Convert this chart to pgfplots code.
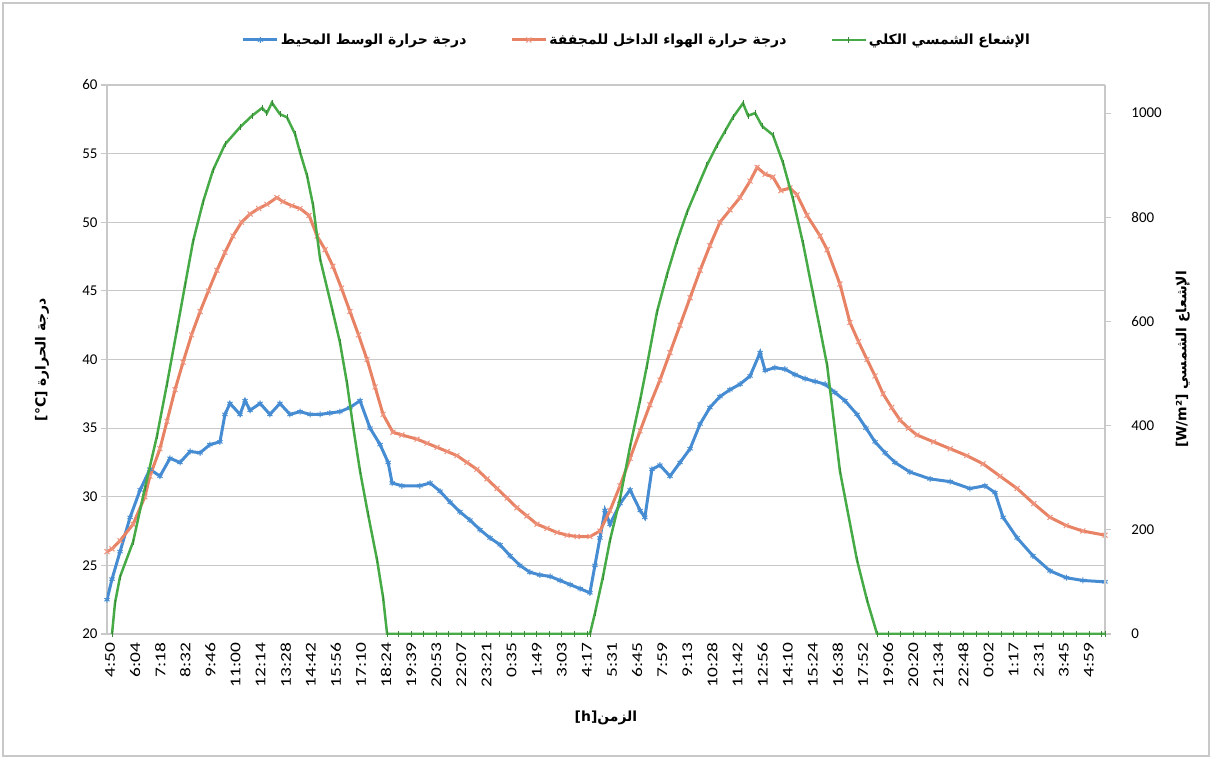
\documentclass[border=0pt]{standalone}
\usepackage{fontspec}
\setmainfont{Carlito}
\newfontfamily\arabicfont[Script=Arabic]{DejaVu Sans}
\usepackage{pgfplots}
\pgfplotsset{compat=1.18}
\TeXXeTstate=1
\definecolor{cblue}{RGB}{70,140,210}
\definecolor{corange}{RGB}{232,130,100}
\definecolor{cgreen}{RGB}{70,170,70}
\definecolor{cgrid}{RGB}{200,200,200}
\begin{document}
\begin{tikzpicture}
\useasboundingbox (-107bp,-126bp) rectangle (1105bp,634bp);
\draw[cgrid, line width=1.2bp] (-104bp,-122bp) rectangle (1102bp,631bp);
\begin{axis}[
  at={(0,0)}, anchor=south west,
  scale only axis, width=998bp, height=549bp,
  xmin=-0.12, xmax=39.64, ymin=20, ymax=60,
  axis x line*=bottom, axis y line*=left,
  axis line style={cgrid, line width=1.2bp},
  ytick={20,25,...,60},
  xtick={0,...,39},
  xticklabels={4:50,6:04,7:18,8:32,9:46,11:00,12:14,13:28,14:42,15:56,17:10,18:24,19:39,20:53,22:07,23:21,0:35,1:49,3:03,4:17,5:31,6:45,7:59,9:13,10:28,11:42,12:56,14:10,15:24,16:38,17:52,19:06,20:20,21:34,22:48,0:02,1:17,2:31,3:45,4:59},
  x tick label style={rotate=90, xscale=1.3, anchor=east, font=\fontsize{15}{17}\selectfont, inner sep=2bp},
  y tick label style={font=\fontsize{15}{18}\selectfont},
  /pgf/number format/assume math mode=true,
  xtick style={draw=none},
  ytick style={cgrid, line width=1.2bp},
  tick align=outside, major tick length=6bp,
  ymajorgrids, grid style={cgrid, line width=1.2bp},
  ylabel={\arabicfont\bfseries\beginR درجة الحرارة \beginL[°C]\endL\endR},
  ylabel style={font=\fontsize{14}{16}\selectfont, at={(axis description cs:-0.065,0.5)}, anchor=center},
  xlabel={\arabicfont\bfseries\beginR الزمن\beginL[h]\endL\endR},
  xlabel style={font=\fontsize{14}{16}\selectfont, at={(axis description cs:0.5,-0.153)}, anchor=center},
]
\addplot[cblue, line width=3bp, mark=asterisk, mark size=3bp, mark options={solid, line width=1bp}] coordinates {
(-0.12,22.5)(0.08,24.0)(0.40,26.0)(0.80,28.5)(1.20,30.5)(1.59,32.0)(1.99,31.5)(2.39,32.8)(2.79,32.5)(3.19,33.3)(3.59,33.2)(3.98,33.8)(4.38,34.0)(4.58,36.0)(4.78,36.8)(5.18,36.0)(5.38,37.0)(5.58,36.3)(5.98,36.8)(6.37,36.0)(6.77,36.8)(7.17,36.0)(7.57,36.2)(7.97,36.0)(8.37,36.0)(8.76,36.1)(9.16,36.2)(9.56,36.5)(9.96,37.0)(10.36,35.0)(10.76,33.8)(11.08,32.5)(11.24,31.0)(11.63,30.8)(12.35,30.8)(12.75,31.0)(13.15,30.4)(13.55,29.6)(13.94,28.9)(14.34,28.3)(14.74,27.6)(15.14,27.0)(15.54,26.5)(15.94,25.7)(16.33,25.0)(16.73,24.5)(17.13,24.3)(17.53,24.2)(17.93,23.9)(18.33,23.6)(18.73,23.3)(19.12,23.0)(19.32,25.0)(19.52,27.0)(19.72,29.0)(19.92,28.0)(20.32,29.5)(20.72,30.5)(21.12,29.0)(21.31,28.5)(21.59,32.0)(21.91,32.3)(22.31,31.5)(22.71,32.5)(23.11,33.5)(23.51,35.3)(23.90,36.5)(24.30,37.3)(24.70,37.8)(25.10,38.2)(25.50,38.8)(25.90,40.5)(26.10,39.2)(26.49,39.4)(26.89,39.3)(27.29,38.9)(27.69,38.6)(28.09,38.4)(28.49,38.2)(28.88,37.6)(29.28,37.0)(29.76,36.0)(30.12,35.0)(30.48,34.0)(30.88,33.2)(31.27,32.5)(31.87,31.8)(32.67,31.3)(33.47,31.1)(34.26,30.6)(34.86,30.8)(35.26,30.3)(35.58,28.5)(36.14,27.0)(36.77,25.7)(37.45,24.6)(38.10,24.1)(38.76,23.9)(39.64,23.8)
};
\addplot[corange, line width=3bp, mark=x, mark size=3.5bp, mark options={solid, line width=1bp, draw=corange!70!pink}] coordinates {
(-0.12,26.0)(0.08,26.2)(0.40,26.8)(0.92,28.0)(1.39,30.0)(1.59,31.5)(1.99,33.5)(2.27,35.5)(2.59,37.8)(2.91,39.8)(3.25,41.8)(3.59,43.5)(3.92,45.0)(4.26,46.5)(4.58,47.8)(4.90,49.0)(5.24,50.0)(5.58,50.6)(5.92,51.0)(6.25,51.3)(6.65,51.8)(6.89,51.5)(7.25,51.2)(7.57,51.0)(7.93,50.5)(8.25,49.0)(8.57,48.0)(8.88,46.8)(9.22,45.2)(9.56,43.5)(9.90,41.8)(10.24,40.0)(10.56,38.0)(10.88,36.0)(11.27,34.7)(11.63,34.5)(12.23,34.2)(12.63,33.9)(13.03,33.6)(13.43,33.3)(13.82,33.0)(14.22,32.5)(14.62,32.0)(15.02,31.3)(15.42,30.6)(15.82,29.9)(16.21,29.2)(16.61,28.6)(17.01,28.0)(17.41,27.7)(17.81,27.4)(18.21,27.2)(18.61,27.1)(19.12,27.1)(19.52,27.5)(19.92,29.0)(20.32,30.8)(20.72,32.8)(21.12,34.8)(21.51,36.7)(21.91,38.5)(22.31,40.5)(22.71,42.5)(23.11,44.5)(23.51,46.5)(23.90,48.3)(24.30,50.0)(24.70,50.9)(25.10,51.8)(25.50,53.0)(25.78,54.0)(26.10,53.5)(26.41,53.3)(26.73,52.3)(27.09,52.5)(27.37,52.0)(27.77,50.5)(28.29,49.0)(28.57,48.0)(29.08,45.5)(29.48,42.7)(29.82,41.3)(30.16,40.0)(30.48,38.8)(30.80,37.5)(31.14,36.5)(31.47,35.6)(31.81,35.0)(32.15,34.5)(32.81,34.0)(33.47,33.5)(34.13,33.0)(34.78,32.4)(35.46,31.5)(36.14,30.6)(36.80,29.5)(37.45,28.5)(38.10,27.9)(38.76,27.5)(39.64,27.2)
};
\end{axis}
\begin{axis}[
  at={(0,0)}, anchor=south west,
  scale only axis, width=998bp, height=549bp,
  xmin=-0.12, xmax=39.64, ymin=0, ymax=1054,
  axis x line=none, axis y line*=right,
  axis line style={cgrid, line width=1.2bp},
  ytick={0,200,...,1000},
  /pgf/number format/1000 sep={},
  /pgf/number format/assume math mode=true,
  y tick label style={font=\fontsize{15}{18}\selectfont, xshift=17bp},
  ytick style={cgrid, line width=1.2bp},
  tick align=outside, major tick length=6bp,
  ylabel={\arabicfont\bfseries\beginR الإشعاع الشمسي \beginL[W/m²]\endL\endR},
  ylabel style={font=\fontsize{14}{16}\selectfont, at={(axis description cs:1.078,0.5)}, anchor=center, rotate=0},
  legend columns=3,
  legend style={at={(0.531,1.082)}, anchor=center, draw=none, fill=none,
    font=\fontsize{14}{16}\selectfont,
    /tikz/every even column/.append style={column sep=42bp}},
  legend image code/.code={\draw[mark repeat=2, mark phase=2, #1] plot coordinates {(0bp,0bp) (17bp,0bp) (34bp,0bp)};},
]
\addlegendimage{cblue, line width=3bp, mark=asterisk, mark size=3bp, mark options={solid, line width=1bp}}
\addlegendentry{\arabicfont\bfseries\beginR درجة حرارة الوسط المحيط\endR}
\addlegendimage{corange, line width=3bp, mark=x, mark size=3.5bp, mark options={solid, line width=1bp, draw=corange!70!pink}}
\addlegendentry{\arabicfont\bfseries\beginR درجة حرارة الهواء الداخل للمجففة\endR}
\addplot[cgreen, line width=2.5bp, mark=|, mark size=3bp, mark options={solid, line width=0.8bp, draw=cgreen!80!black}] coordinates {
(0.08,0)(0.20,60)(0.40,110)(0.92,177)(1.39,280)(1.87,380)(2.27,480)(2.67,585)(2.99,670)(3.31,754)(3.71,830)(4.10,890)(4.58,940)(5.18,973)(5.66,995)(6.06,1010)(6.25,1000)(6.45,1020)(6.77,998)(7.05,992)(7.37,960)(7.57,925)(7.85,880)(8.09,823)(8.37,720)(8.88,618)(9.16,560)(9.44,482)(9.68,400)(9.96,313)(10.28,230)(10.64,142)(10.88,70)(11.04,0)
(11.5,0)(12.0,0)(12.5,0)(13.0,0)(13.5,0)(14.0,0)(14.5,0)(15.0,0)(15.5,0)(16.0,0)(16.5,0)(17.0,0)(17.5,0)(18.0,0)(18.5,0)(19.0,0)
(19.12,0)(19.32,40)(19.64,110)(19.92,180)(20.32,260)(20.72,360)(21.12,449)(21.39,515)(21.79,618)(22.19,690)(22.59,754)(22.99,810)(23.39,856)(23.78,900)(24.18,938)(24.50,965)(24.82,992)(25.22,1019)(25.42,995)(25.70,1000)(25.98,975)(26.41,958)(26.81,905)(27.21,835)(27.61,750)(28.01,653)(28.29,585)(28.57,516)(29.08,313)(29.76,142)(30.16,65)(30.56,0)
(31.0,0)(31.5,0)(32.0,0)(32.5,0)(33.0,0)(33.5,0)(34.0,0)(34.5,0)(35.0,0)(35.5,0)(36.0,0)(36.5,0)(37.0,0)(37.5,0)(38.0,0)(38.5,0)(39.0,0)(39.5,0)(39.64,0)
};
\addlegendentry{\arabicfont\bfseries\beginR الإشعاع الشمسي الكلي\endR}
\end{axis}
\end{tikzpicture}
\end{document}
